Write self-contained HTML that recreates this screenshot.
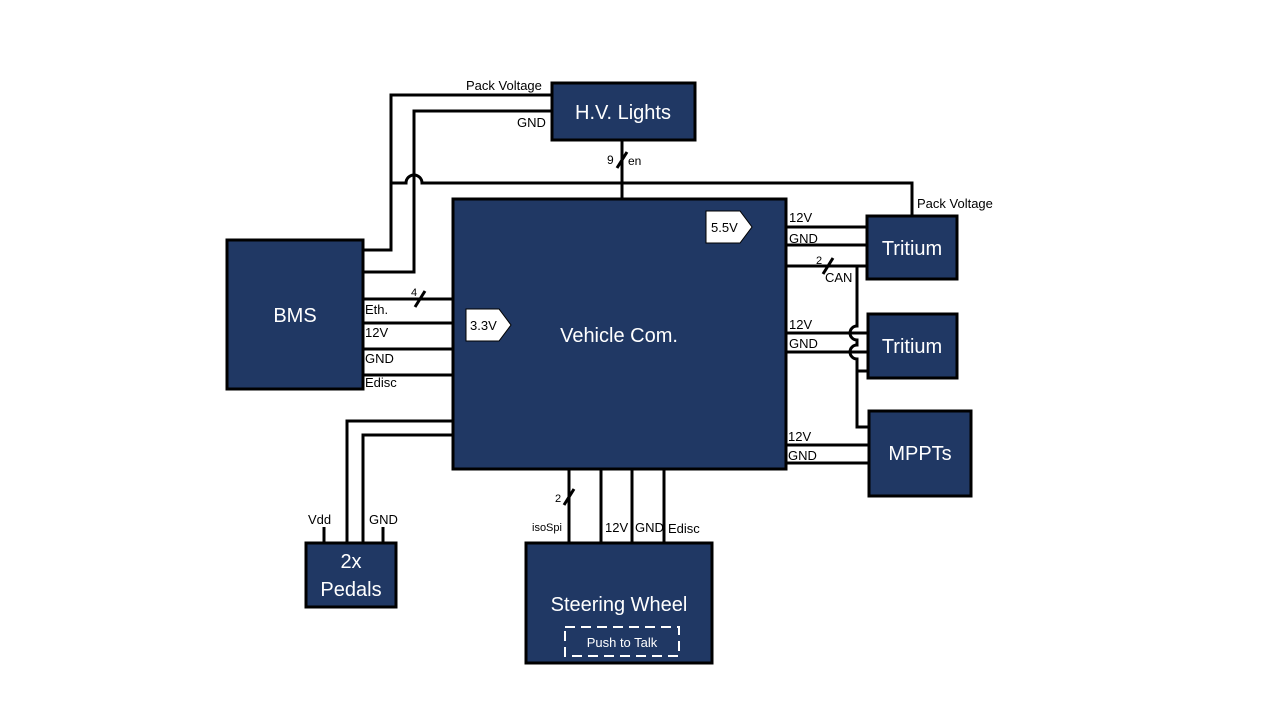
<!DOCTYPE html>
<html><head><meta charset="utf-8"><style>
html,body{margin:0;padding:0;background:#fff;}
svg{display:block;}
text{font-family:"Liberation Sans",sans-serif;fill:#000;}
.b{fill:#203864;stroke:#000;stroke-width:3;}
.w{fill:#fff;font-size:20px;text-anchor:middle;}
.l{fill:none;stroke:#000;stroke-width:3;}
.s{font-size:13px;}
</style></head><body>
<svg width="1280" height="720" viewBox="0 0 1280 720" xmlns="http://www.w3.org/2000/svg">
<!-- wires -->
<path class="l" d="M552 95 H391 V250 H363"/>
<path class="l" d="M552 111 H414 V272 H363"/>
<path class="l" d="M391 183 H406 A8 8 0 0 1 422 183 H912 V216"/>
<path class="l" d="M622 140 V199"/>
<path class="l" d="M617 168 L627 152"/>
<path class="l" d="M363 299 H453 M363 323 H467 M363 349 H453 M363 375 H453"/>
<path class="l" d="M415 307 L425 291"/>
<path class="l" d="M752 227 H867 M786 245 H867 M786 266 H867"/>
<path class="l" d="M823 274 L833 258"/>
<path class="l" d="M857 266 V326 A7 7 0 0 0 857 340 V345 A7 7 0 0 0 857 359 V427 H869 M857 371 H868"/>
<path class="l" d="M786 333 H868 M786 352 H868"/>
<path class="l" d="M786 445 H869 M786 463 H869"/>
<path class="l" d="M453 421 H347 V543 M453 435 H363 V543"/>
<path class="l" d="M324 527 V543 M383 527 V543"/>
<path class="l" d="M569 469 V543 M601 469 V543 M632 469 V543 M664 469 V543"/>
<path class="l" d="M564 505 L574 489"/>
<!-- boxes -->
<rect class="b" x="552" y="83" width="143" height="57"/>
<text class="w" x="623" y="119">H.V. Lights</text>
<rect class="b" x="453" y="199" width="333" height="270"/>
<text class="w" x="619" y="342">Vehicle Com.</text>
<rect class="b" x="227" y="240" width="136" height="149"/>
<text class="w" x="295" y="322">BMS</text>
<rect class="b" x="867" y="216" width="90" height="63"/>
<text class="w" x="912" y="255">Tritium</text>
<rect class="b" x="868" y="314" width="89" height="64"/>
<text class="w" x="912" y="353">Tritium</text>
<rect class="b" x="869" y="411" width="102" height="85"/>
<text class="w" x="920" y="460">MPPTs</text>
<rect class="b" x="306" y="543" width="90" height="64"/>
<text class="w" x="351" y="568">2x</text>
<text class="w" x="351" y="596">Pedals</text>
<rect class="b" x="526" y="543" width="186" height="120"/>
<text class="w" x="619" y="611">Steering Wheel</text>
<rect x="565" y="627" width="114" height="29" fill="none" stroke="#fff" stroke-width="2" stroke-dasharray="10,6"/>
<text x="622" y="647" style="fill:#fff;font-size:13px;text-anchor:middle">Push to Talk</text>
<!-- voltage tags -->
<polygon points="466,309 499,309 511,325 499,341 466,341" fill="#fff" stroke="#000" stroke-width="1"/>
<text class="s" x="470" y="330">3.3V</text>
<polygon points="706,211 740,211 752,227 740,243 706,243" fill="#fff" stroke="#000" stroke-width="1"/>
<text class="s" x="711" y="232">5.5V</text>
<!-- labels -->
<text class="s" x="466" y="90">Pack Voltage</text>
<text class="s" x="517" y="127">GND</text>
<text class="s" x="607" y="164" style="font-size:12px">9</text>
<text class="s" x="628" y="165" style="font-size:12px">en</text>
<text class="s" x="917" y="208">Pack Voltage</text>
<text class="s" x="411" y="296" style="font-size:11px">4</text>
<text class="s" x="365" y="314">Eth.</text>
<text class="s" x="365" y="337">12V</text>
<text class="s" x="365" y="363">GND</text>
<text class="s" x="365" y="387">Edisc</text>
<text class="s" x="789" y="222">12V</text>
<text class="s" x="789" y="243">GND</text>
<text class="s" x="816" y="264" style="font-size:11px">2</text>
<text class="s" x="825" y="282">CAN</text>
<text class="s" x="789" y="329">12V</text>
<text class="s" x="789" y="348">GND</text>
<text class="s" x="788" y="441">12V</text>
<text class="s" x="788" y="460">GND</text>
<text class="s" x="308" y="524">Vdd</text>
<text class="s" x="369" y="524">GND</text>
<text class="s" x="555" y="502" style="font-size:11px">2</text>
<text class="s" x="532" y="531" style="font-size:11px">isoSpi</text>
<text class="s" x="605" y="532">12V</text>
<text class="s" x="635" y="532">GND</text>
<text class="s" x="668" y="533">Edisc</text>
</svg>
</body></html>
